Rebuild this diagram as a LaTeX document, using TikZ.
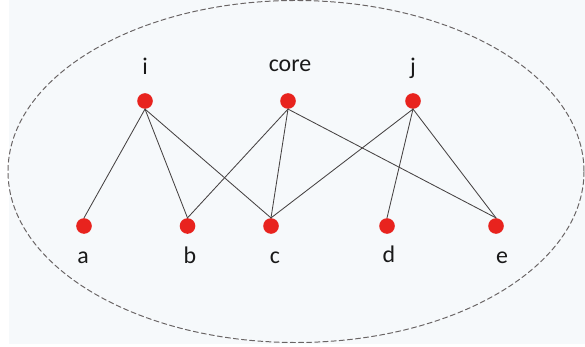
\documentclass[tikz,border=0pt]{standalone}
\usepackage{fontspec}
\setmainfont{Carlito}
\usetikzlibrary{calc,positioning}
\definecolor{dotred}{RGB}{232,35,30}
\definecolor{edgegray}{RGB}{70,66,66}
\definecolor{rimgray}{RGB}{105,100,100}
\definecolor{paper}{RGB}{246,249,251}

\begin{document}
\begin{tikzpicture}[x=0.025cm,y=-0.025cm,line join=round,line cap=round,
    vtx/.style={circle,fill=dotred,inner sep=0pt,minimum size=0.39cm},
    lbl/.style={anchor=base,inner sep=0pt,font=\fontsize{17}{20}\selectfont,text=black!90},
    edge/.style={line width=0.6pt,draw=edgegray}]
    \useasboundingbox (0,0) rectangle (585,347);
    \fill[paper] (9,0) rectangle (585,344);
    \draw[rimgray,line width=0.7pt,dash pattern=on 3.6pt off 2.2pt] (296,171.5) ellipse [x radius=288,y radius=171];
    % upper row
    \node[vtx] (i) at (145,101){};
    \node[vtx] (core) at (288,101){};
    \node[vtx] (j) at (413,101){};
    % lower row
    \node[vtx] (a) at (84,226){};
    \node[vtx] (b) at (187.5,226){};
    \node[vtx] (c) at (271,226){};
    \node[vtx] (d) at (387,226){};
    \node[vtx] (e) at (496,226){};
    \node[lbl] (li) at (145,75){i};
    \node[lbl] (lcore) at (290,72){core};
    \node[lbl] (lj) at (413,75){j};
    \node[lbl] (la) at (83,263){a};
    \node[lbl] (lb) at (190,263){b};
    \node[lbl] (lc) at (275,263){c};
    \node[lbl] (ld) at (389,262){d};
    \node[lbl] (le) at (502,263){e};
    \draw[edge] (i.south)--(a.north);
    \draw[edge] (i.south)--(b.north);
    \draw[edge] (i.south)--(c.north);
    \draw[edge] (core.south)--(b.north);
    \draw[edge] (core.south)--(c.north);
    \draw[edge] (core.south)--(e.north);
    \draw[edge] (j.south)--(c.north);
    \draw[edge] (j.south)--(d.north);
    \draw[edge] (j.south)--(e.north);
  \end{tikzpicture}
\end{document}
